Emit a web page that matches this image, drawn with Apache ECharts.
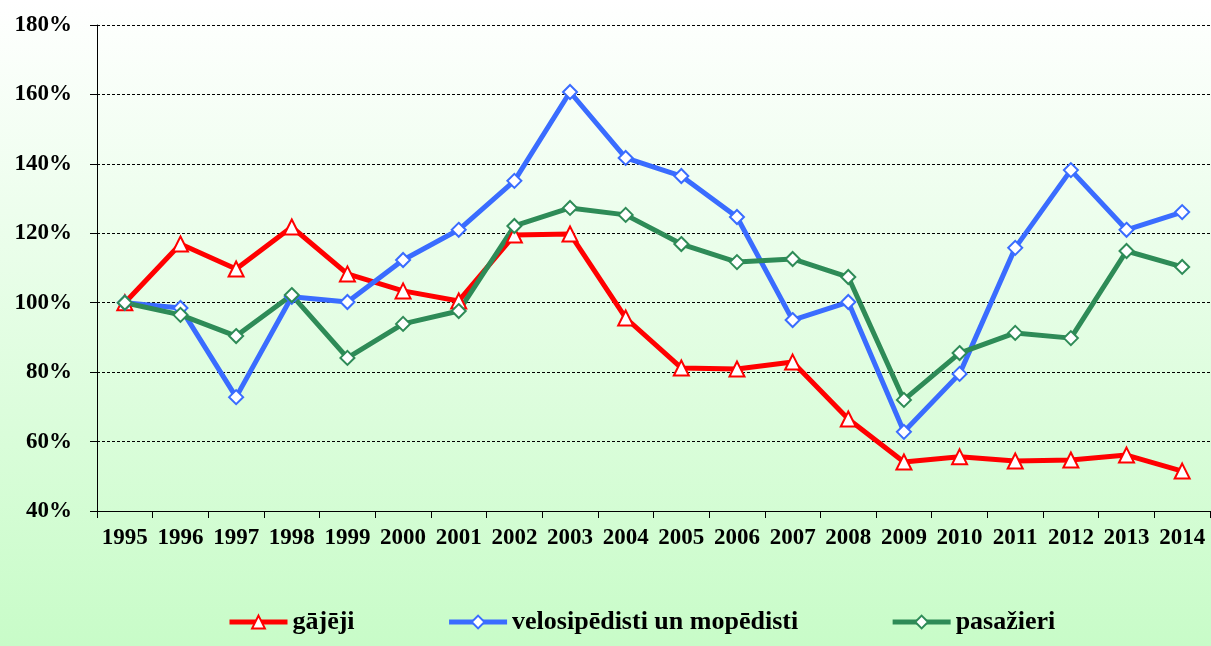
<!DOCTYPE html>
<html>
<head>
<meta charset="utf-8">
<script src="https://cdn.jsdelivr.net/npm/echarts@6/dist/echarts.min.js"></script>
<style>
  html, body { margin: 0; padding: 0; }
  #chart { width: 1211px; height: 646px; }
</style>
</head>
<body>
<div id="chart"></div>
<script>
// Years on the category axis
const years = ['1995', '1996', '1997', '1998', '1999', '2000', '2001', '2002', '2003', '2004',
  '2005', '2006', '2007', '2008', '2009', '2010', '2011', '2012', '2013', '2014'];

// Values as % of 1995 level
const gajeji = [100, 116.9, 109.7, 121.8, 108.3, 103.4, 100.5, 119.5, 119.8, 95.6,
  81.2, 80.9, 82.9, 66.5, 54.1, 55.6, 54.4, 54.7, 56.1, 51.5];
const velosipedisti = [100, 98.5, 72.8, 101.7, 100.2, 112.3, 121, 135.1, 160.7, 141.7,
  136.5, 124.7, 95, 100.2, 62.8, 79.5, 115.8, 138.2, 121, 126.1];
const pasazieri = [100, 96.5, 90.4, 102.2, 84.1, 93.9, 97.6, 122.1, 127.3, 125.3,
  116.9, 111.7, 112.6, 107.4, 72, 85.5, 91.3, 89.8, 114.9, 110.3];

const seriesNames = ['gājēji', 'velosipēdisti un mopēdisti', 'pasažieri'];

const FONT = '"Liberation Serif", "Times New Roman", serif';
const RED = '#ff0000';
const BLUE = '#3a6cff';
const GREEN = '#2e8b57';

function lineSeries(name, data, color, symbol) {
  return {
    name,
    type: 'line',
    data,
    symbol,
    symbolSize: symbol === 'triangle' ? 15 : 14,
    lineStyle: { color, width: 5 },
    itemStyle: { color: '#ffffff', borderColor: color, borderWidth: 2 },
    emphasis: { disabled: true },
  };
}

const chart = echarts.init(document.getElementById('chart'), null, { renderer: 'canvas' });
chart.setOption({
  animation: false,
  backgroundColor: new echarts.graphic.LinearGradient(0, 0, 0, 1, [
    { offset: 0, color: '#ffffff' },
    { offset: 1, color: '#c8fcc8' },
  ]),
  grid: { left: 97, right: 1, top: 25, bottom: 135, containLabel: false },
  legend: {
    top: 604,
    left: 222,
    itemWidth: 58,
    itemHeight: 16,
    itemGap: 92,
    lineStyle: { width: 5 },
    textStyle: { fontFamily: FONT, fontWeight: 'bold', fontSize: 26, color: '#000' },
    data: seriesNames,
  },
  xAxis: {
    type: 'category',
    data: years,
    boundaryGap: true,
    axisLine: { lineStyle: { color: '#000', width: 1 } },
    axisTick: { show: true, length: 7, lineStyle: { color: '#000' } },
    axisLabel: {
      fontFamily: FONT, fontWeight: 'bold', fontSize: 23, color: '#000',
      margin: 16, interval: 0,
    },
  },
  yAxis: {
    type: 'value',
    min: 40,
    max: 180,
    interval: 20,
    axisLine: { show: true, lineStyle: { color: '#000', width: 1 } },
    axisTick: { show: true, length: 7, lineStyle: { color: '#000' } },
    axisLabel: {
      fontFamily: FONT, fontWeight: 'bold', fontSize: 23, color: '#000',
      margin: 25, formatter: '{value}%',
    },
    splitLine: { lineStyle: { color: '#000', width: 1, type: [3, 2] } },
  },
  series: [
    lineSeries(seriesNames[0], gajeji, RED, 'triangle'),
    lineSeries(seriesNames[1], velosipedisti, BLUE, 'diamond'),
    lineSeries(seriesNames[2], pasazieri, GREEN, 'diamond'),
  ],
});
</script>
</body>
</html>
